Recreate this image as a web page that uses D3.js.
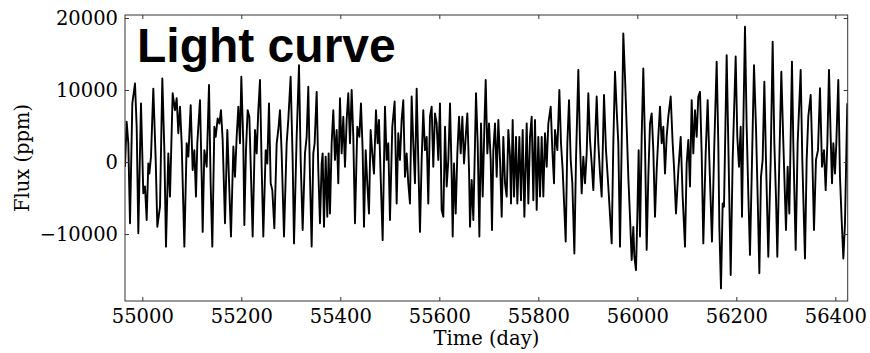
<html>
<head>
<meta charset="utf-8">
<script src="https://d3js.org/d3.v7.min.js"></script>
<style>
  body { margin: 0; background: white; }
  .tick text { font-family: "DejaVu Serif", serif; font-size: 19.5px; fill: black; }
</style>
</head>
<body>
<svg width="870" height="353"></svg>
<script>
// light curve values (day, ppm)
var days = [54965,54968.4,54971.7,54975.1,54979.8,54985.2,54988.6,54991.9,54997.3,55002.0,55005.4,55008.8,55012.1,55014.2,55017.5,55022.2,55027.0,55030.3,55035.7,55040.4,55044.5,55047.8,55052.5,55055.9,55061.3,55066.0,55069.4,55072.7,55076.1,55079.5,55084.9,55089.6,55093.0,55097.7,55101.7,55105.1,55108.4,55111.1,55116.5,55119.9,55121.9,55125.3,
  55130.0,55134.7,55138.0,55141.4,55145.5,55148.2,55152.2,55155.6,55158.9,55162.3,55167.0,55171.7,55175.8,55179.1,55183.9,55187.2,55190.6,55194.0,55197.3,55200.0,55204.0,55206.1,55209.4,55212.8,55216.2,55218.9,55222.9,55227.6,55231.0,55234.3,55237.7,55241.1,55244.4,55249.2,55252.5,55255.9,55259.3,55262.6,55266.7,55271.4,55274.7,55278.1,
  55281.5,55286.2,55291.6,55294.9,55299.6,55303.7,55306.4,55311.8,55316.5,55319.9,55323.9,55328.6,55332.0,55335.3,55338.7,55342.1,55345.4,55348.1,55352.2,55355.5,55358.9,55362.3,55364.3,55367.0,55370.4,55373.7,55376.4,55379.1,55382.5,55385.8,55389.2,55392.6,55395.9,55399.3,55402.7,55406.0,55409.4,55412.8,55416.1,55419.5,55422.9,55426.2,55429.6,55434.3,55438.4,55441.7,55445.1,55447.8,
  55451.2,55454.5,55457.9,55461.2,55464.6,55468.0,55472.0,55475.4,55478.1,55481.5,55485.5,55490.2,55493.6,55496.9,55500.3,55505.0,55509.7,55513.8,55517.1,55520.5,55523.9,55527.2,55530.6,55534.0,55537.3,55540.7,55544.1,55547.4,55550.8,55554.2,55557.5,55560.9,55564.3,55567.6,55571.0,55574.4,55577.7,55581.1,55584.5,55587.8,55591.2,55594.6,55597.9,55601.3,55604.7,55608.1,
  55611.5,55614.9,55618.2,55621.6,55625.0,55627.0,55629.7,55633.1,55636.4,55639.8,55643.2,55646.5,55649.9,55653.3,55656.6,55660.0,55662.0,55665.4,55668.7,55672.1,55674.1,55677.5,55680.9,55684.2,55687.6,55691.0,55693.7,55697.0,55700.4,55703.8,55706.4,55709.1,55712.5,55715.9,55719.2,55722.6,55726.0,55729.3,55732.7,55736.1,55739.4,55742.8,55744.8,55748.2,55750.9,55754.9,55757.6,55761.7,55765.0,55768.4,55771.8,
  55776.5,55779.8,55783.2,55786.6,55789.9,55793.3,55796.7,55800.0,55803.4,55806.8,55810.1,55813.5,55816.9,55820.2,55825.0,55828.3,55831.7,55833.7,55838.4,55842.5,55845.8,55849.2,55855.3,55858.6,55862.0,55865.4,55868.7,55872.8,55876.1,55880.8,55884.2,55887.6,55890.9,55894.3,55897.7,55901.0,55904.4,55907.8,55911.1,55914.5,55917.9,55921.2,55924.6,
  55928.0,55932.7,55936.7,55941.4,55948.2,55951.5,55954.9,55958.3,55961.6,55965.0,55968.4,55971.7,55975.1,55978.5,55981.8,55985.2,55988.6,55991.9,55994.0,55997.3,56000.0,56002.7,56005.4,56008.8,56012.1,56015.5,56018.9,56022.2,56025.6,56029.0,56032.3,56035.7,56039.1,56042.4,56045.8,56049.2,56052.5,56055.9,56059.3,56062.6,56067.4,56071.4,56074.1,56078.1,56082.9,56087.6,56091.6,
  56096.3,56099.7,56103.0,56106.4,56109.8,56113.1,56116.5,56119.9,56123.2,56126.6,56130.0,56133.3,56138.1,56142.1,56145.5,56150.8,56155.6,56160.3,56163.6,56165.7,56169.0,56172.4,56175.1,56180.5,56183.8,56188.6,56192.6,56198.7,56202.0,56205.4,56208.8,56211.5,56214.1,56217.5,56220.9,56224.2,56227.6,56231.0,56235.7,56239.7,56243.1,56246.5,56249.8,56253.2,56256.6,
  56259.9,56264.6,56269.4,56273.4,56276.8,56280.1,56282.8,56286.9,56290.9,56295.0,56300.3,56303.7,56307.1,56312.4,56315.1,56319.9,56323.9,56330.0,56333.3,56338.7,56342.1,56345.4,56350.2,56352.9,56356.9,56360.9,56365.0,56369.0,56373.1,56377.1,56380.5,56383.9,56387.2,56390.6,56393.3,56396.0,56399.3,56402.0,56406.0,56409.4,56412.8,56416.2,56419.5,56424.2];
var flux = [-650,5600,2600,-8500,8150,10900,4900,-9900,8150,-4350,-3400,-8050,-200,-1600,750,10200,300,-9000,-6200,11600,1650,-11750,1200,-4800,9550,7200,8850,4000,7700,2600,-11750,2600,750,7900,-1100,1650,-4800,2600,8600,-2050,-9700,1650,
  -650,10700,-2950,-11750,4900,3500,6050,5350,7200,3050,-8500,4450,-3900,-10350,2150,-2050,3500,7700,2600,11850,2600,-8750,1650,7200,6300,-200,-10350,4450,1200,7200,11400,-650,-10350,1650,-200,8150,-2950,-3900,-9200,2600,4450,7200,
  1200,-10350,2600,5850,11850,300,-11300,3500,13450,300,-9450,1200,3500,10450,-2050,-11750,1200,2600,9750,-1100,-8500,-200,1200,-9000,750,-7600,1200,-7150,2600,7200,300,4450,-2950,8850,1200,6300,-650,5850,9550,2600,10000,3500,-8500,4900,3500,8150,1650,-9000,
  1650,-2950,-7150,4450,1200,-1600,7200,2600,5850,-2050,-10850,7700,300,2600,-8050,4900,8400,-5750,4000,300,5850,8600,-2050,1200,-2950,-5750,9100,2600,-2950,10200,300,-9700,300,7200,1650,3500,-5750,6300,7700,-650,6750,5350,300,8150,-6650,-7600,
  4900,-3400,300,8150,-2050,-10350,-200,-7150,1200,6300,1200,6300,-200,3500,6750,-1100,-9000,-2500,-8050,2600,9550,2600,-10350,5350,-4800,4900,11400,1200,5350,300,-9450,1650,5350,-2050,5850,300,-7600,3500,-2950,-4800,4450,750,-5750,5850,-4800,3500,-5750,3500,-5300,4450,-7600,
  5350,-5750,3500,6300,-5300,5850,-6650,3500,-4800,3500,-4800,4000,-650,5350,7700,1650,-2950,4450,1650,10000,2600,-1100,-11050,2600,8600,300,-2950,-12700,300,12800,2600,-4350,750,-2950,1200,9550,3050,-200,-3900,2600,9100,2600,-1600,
  -4800,9300,1650,-3400,-11300,2600,12550,7200,2600,-11750,2600,17850,11850,4900,-2050,-7600,-13600,-9000,-13150,-15000,-7600,1650,-10350,3500,13000,2600,-12200,-2050,5350,6750,1650,-7600,-1100,3500,7700,2600,4900,-1600,3500,6300,9100,2600,-650,-7150,-1100,3500,-4800,
  -11750,-200,3050,-3400,8600,1200,7200,3500,9100,9750,1200,-11300,1200,8600,300,-11050,2600,13950,2600,-9000,-17550,-5750,-6200,14850,2600,-15700,300,14650,3500,-650,4900,-7600,4900,18800,4900,-4350,-12900,-2050,13450,4900,-4800,-15450,-2050,300,11150,
  300,-13150,300,16700,2600,-4800,-13150,300,12550,2600,-9450,-650,-7150,13950,2600,-12200,2600,12800,300,-13400,300,6300,9300,2600,-9450,300,1650,10250,-650,1650,-3900,2600,12800,3500,-2950,2600,-1600,2600,11400,-2050,-8050,-13400,-8500,8150];
var xTicks = [55000,55200,55400,55600,55800,56000,56200,56400];
var yTicks = [-10000,0,10000,20000];

var svg = d3.select("svg");
var padLeft = 125, padTop = 15, padRight = 847.7, padBottom = 301;
var width = padRight - padLeft, height = padBottom - padTop;

var x = d3.scaleLinear().domain([54965, 56425]).range([0, width]);
var y = d3.scaleLinear().domain([-19300, 20420]).range([height, 0]);

var g = svg.append("g").attr("transform", "translate(" + padLeft + "," + padTop + ")");

g.append("clipPath").attr("id", "clip")
  .append("rect").attr("width", width).attr("height", height);

g.append("path")
  .datum(days)
  .attr("clip-path", "url(#clip)")
  .attr("fill", "none")
  .attr("stroke", "black")
  .attr("stroke-width", 1.9)
  .attr("stroke-linejoin", "round")
  .attr("d", d3.line().x(function(d){ return x(d); }).y(function(d, i){ return y(flux[i]); }));

var fmt = d3.format("d");
// ticks point inward on all four sides
g.append("g").attr("transform", "translate(0," + height + ")")
  .call(d3.axisBottom(x).tickValues(xTicks).tickFormat(fmt).tickSize(-4).tickPadding(8.5));
g.append("g")
  .call(d3.axisLeft(y).tickValues(yTicks).tickFormat(fmt).tickSize(-4).tickPadding(7));
g.append("g")
  .call(d3.axisTop(x).tickValues(xTicks).tickFormat("").tickSize(-4));
g.append("g").attr("transform", "translate(" + width + ",0)")
  .call(d3.axisRight(y).tickValues(yTicks).tickFormat("").tickSize(-4));
g.selectAll(".domain").remove();
g.selectAll(".tick line").attr("stroke", "#333");

g.append("rect").attr("width", width).attr("height", height)
  .attr("fill", "none").attr("stroke", "#333").attr("stroke-width", 1);

svg.append("text")
  .attr("x", padLeft + width / 2).attr("y", 345)
  .attr("text-anchor", "middle").attr("fill", "black")
  .attr("font-family", "DejaVu Serif").attr("font-size", "19.5px")
  .text("Time (day)");

svg.append("text")
  .attr("transform", "translate(29," + (padTop + height / 2) + ") rotate(-90)")
  .attr("text-anchor", "middle").attr("fill", "black")
  .attr("font-family", "DejaVu Serif").attr("font-size", "19.5px")
  .text("Flux (ppm)");

svg.append("text")
  .attr("x", 137).attr("y", 62).attr("fill", "black")
  .attr("font-family", "Liberation Sans, Arial, sans-serif")
  .attr("font-weight", "bold").attr("font-size", "48px")
  .text("Light curve");
</script>
</body>
</html>
